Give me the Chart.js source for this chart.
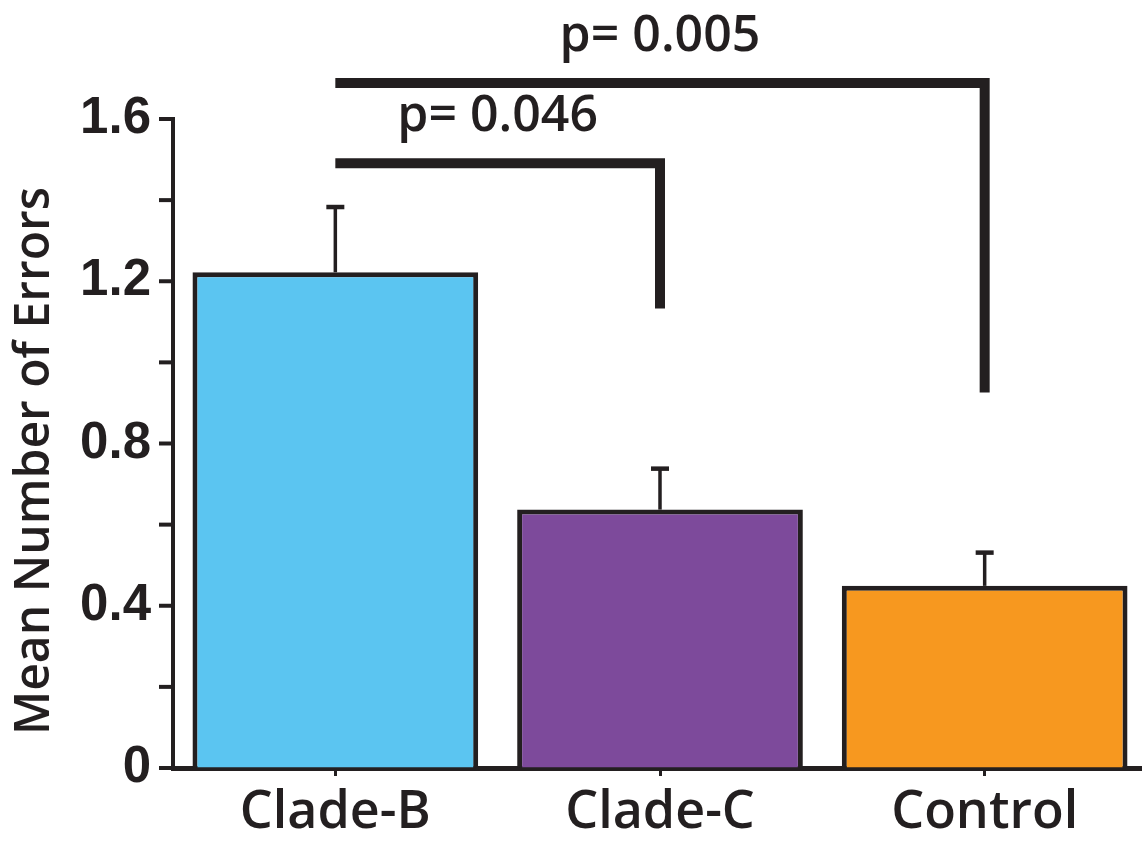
<!DOCTYPE html>
<html>
<head>
<meta charset="utf-8">
<style>
  html, body { margin: 0; padding: 0; background: #fff; overflow: hidden; }
  canvas { display: block; }
</style>
<script src="https://cdn.jsdelivr.net/npm/chart.js@4.4.1/dist/chart.umd.min.js"></script>
</head>
<body>
<canvas id="chart" width="1147" height="844"></canvas>
<script>
const CATEGORIES = ["Clade-B", "Clade-C", "Control"];
const MEANS  = [1.222, 0.637, 0.449];
const ERRORS = [0.161, 0.101, 0.082];
const COLORS = ["#5bc5f1", "#7d4a9b", "#f7981f"];

// significance brackets: from category, to category, bar height, leg end, label
const BRACKET_FROM = [0, 0];
const BRACKET_TO   = [1, 2];
const BRACKET_Y    = [1.491, 1.689];
const BRACKET_LEG  = [1.133, 0.926];
const P_LABELS     = ["p= 0.046", "p= 0.005"];

const Y_TITLE = "Mean Number of Errors";
const INK = "#231f20";

const overlay = {
  id: "overlay",
  afterDatasetsDraw(chart) {
    const { ctx, scales: { x, y } } = chart;
    ctx.save();
    ctx.strokeStyle = INK;
    ctx.fillStyle = INK;

    // error bars (upper only)
    MEANS.forEach((m, i) => {
      const cx = x.getPixelForValue(i);
      const base = y.getPixelForValue(m);
      const top = y.getPixelForValue(m + ERRORS[i]);
      ctx.lineWidth = 3.5;
      ctx.beginPath(); ctx.moveTo(cx, base); ctx.lineTo(cx, top); ctx.stroke();
      ctx.lineWidth = 4.5;
      ctx.beginPath(); ctx.moveTo(cx - 9, top); ctx.lineTo(cx + 9, top); ctx.stroke();
    });

    // brackets + p labels
    ctx.lineWidth = 10;
    ctx.lineJoin = "miter";
    ctx.lineCap = "butt";
    ctx.font = "600 50px 'Open Sans'";
    ctx.textAlign = "center";
    ctx.textBaseline = "alphabetic";
    BRACKET_FROM.forEach((from, i) => {
      const x0 = x.getPixelForValue(from);
      const x1 = x.getPixelForValue(BRACKET_TO[i]);
      const yb = y.getPixelForValue(BRACKET_Y[i]);
      const yl = y.getPixelForValue(BRACKET_LEG[i]);
      ctx.beginPath();
      ctx.moveTo(x0, yb);
      ctx.lineTo(x1, yb);
      ctx.lineTo(x1, yl);
      ctx.stroke();
      ctx.fillText(P_LABELS[i], (x0 + x1) / 2, yb - 32);
    });
    ctx.restore();
  },
  afterDraw(chart) {
    const { ctx, scales: { y }, chartArea } = chart;
    ctx.save();
    ctx.strokeStyle = INK;
    ctx.lineWidth = 4;
    // y ticks: long every 0.2, short every 0.1
    y.ticks.forEach((t) => {
      const py = y.getPixelForValue(t.value);
      const len = Math.round(t.value * 10) % 2 === 0 ? 14 : 7;
      ctx.beginPath();
      ctx.moveTo(chartArea.left - len, py);
      ctx.lineTo(chartArea.left, py);
      ctx.stroke();
    });
    // y title
    ctx.fillStyle = INK;
    ctx.font = "600 48px 'Open Sans'";
    ctx.textAlign = "center";
    ctx.textBaseline = "middle";
    ctx.translate(35, 461);
    ctx.rotate(-Math.PI / 2);
    ctx.fillText(Y_TITLE, 0, 0);
    ctx.restore();
  },
};

new Chart(document.getElementById("chart"), {
  type: "bar",
  data: {
    labels: CATEGORIES,
    datasets: [{
      data: MEANS,
      backgroundColor: COLORS,
      borderColor: INK,
      borderWidth: 5,
      barPercentage: 0.88,
      categoryPercentage: 1,
    }],
  },
  options: {
    responsive: false,
    animation: false,
    layout: { padding: { top: 119, left: 0, right: 0, bottom: 0 } },
    plugins: { legend: { display: false }, tooltip: { enabled: false } },
    scales: {
      x: {
        afterFit: (s) => { s.height = 76; },
        grid: {
          offset: false,
          drawOnChartArea: false,
          color: INK,
          tickLength: 8,
          lineWidth: 3,
        },
        border: { display: true, color: INK, width: 5 },
        ticks: {
          color: INK,
          padding: 6,
          font: { family: "'Open Sans'", size: 52, weight: "600" },
        },
      },
      y: {
        min: 0,
        max: 1.6,
        afterFit: (s) => { s.width = 173; },
        grid: { drawOnChartArea: false, drawTicks: false },
        border: { display: true, color: INK, width: 4 },
        ticks: {
          stepSize: 0.1,
          padding: 22,
          color: INK,
          font: { family: "'Liberation Sans', Arial", size: 51, weight: "bold" },
          callback: (v) => {
            const k = Math.round(v * 10);
            if (k % 4 !== 0) return "";
            return k === 0 ? "0" : (k / 10).toFixed(1);
          },
        },
      },
    },
  },
  plugins: [overlay],
});
</script>
</body>
</html>
